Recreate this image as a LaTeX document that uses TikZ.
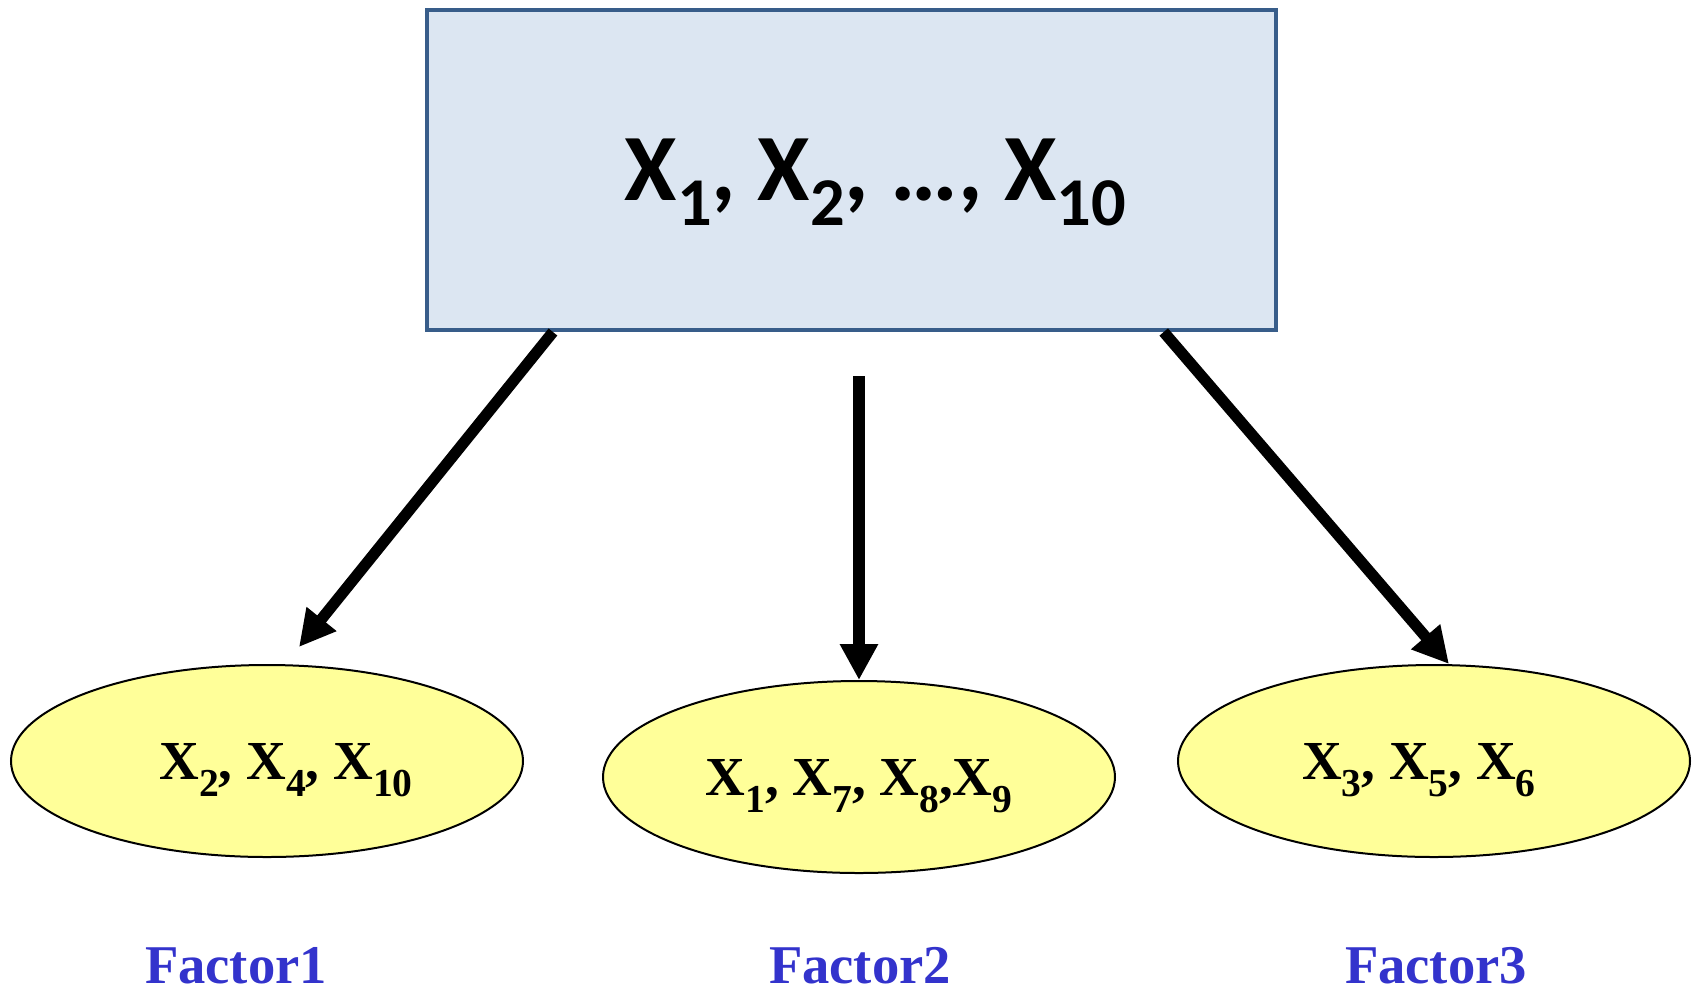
\documentclass[tikz,border=0pt]{standalone}
\usepackage{fontspec}
\setmainfont{Liberation Serif}
\newfontfamily\calib{Carlito}
\usetikzlibrary{arrows.meta,calc,positioning,shapes.geometric}
\definecolor{boxblue}{RGB}{220,230,242}
\definecolor{boxedge}{RGB}{56,93,138}
\definecolor{facyellow}{RGB}{255,255,153}
\definecolor{facblue}{RGB}{51,51,204}
\newcommand\idx[2][.32em]{\raisebox{-#1}{\scalebox{.72}{#2}}}

\begin{document}
\begin{tikzpicture}[x=.5pt,y=-.5pt,>={Triangle[length=18pt,width=18pt]},
    factor/.style={ellipse,draw,line width=1pt,fill=facyellow,minimum width=256pt,
      minimum height=96pt,inner sep=0pt,text depth=0pt,font=\fontsize{27.5}{30}\selectfont\bfseries},
    flabel/.style={anchor=base,text=facblue,font=\fontsize{27.3}{30}\selectfont\bfseries},
    link/.style={->,line width=5.6pt}]
  \useasboundingbox (0,0) rectangle (1698,992);
  \node[draw=boxedge,line width=2pt,fill=boxblue,minimum width=424.5pt,minimum height=160pt,
    text depth=0pt,font=\calib\fontsize{47.5}{50}\selectfont\bfseries] (all) at (851.5,170)
    {\hspace*{24pt}X\idx[.26em]{1}, X\idx[.26em]{2}, …, X\idx[.26em]{10}};
  \node[factor] (f1) at (267,761) {\hspace*{19pt}X\idx{2}, X\idx{4}, X\idx{10}};
  \node[factor] (f2) at (859,777) {X\idx{1}, X\idx{7}, X\idx{8},X\idx{9}};
  \node[factor] (f3) at (1434,761) {X\idx{3}, X\idx{5}, X\idx{6}\hspace*{15pt}};
  \node[flabel] (l1) at (236,983) {Factor1};
  \node[flabel] (l2) at (860,983) {Factor2};
  \node[flabel] (l3) at (1436,983) {Factor3};
  \coordinate (s1) at ($(all.south west)!.15!(all.south east)$);
  \coordinate (t1) at (299,647);
  \coordinate (s2) at (859,376);
  \coordinate (s3) at ($(all.south west)!.866!(all.south east)$);
  \draw[link] (s1) -- (t1);
  \draw[link] (s2) -- (f2.north);
  \draw[link] (s3) -- ([xshift=7.5pt]f3.north);
\end{tikzpicture}
\end{document}
